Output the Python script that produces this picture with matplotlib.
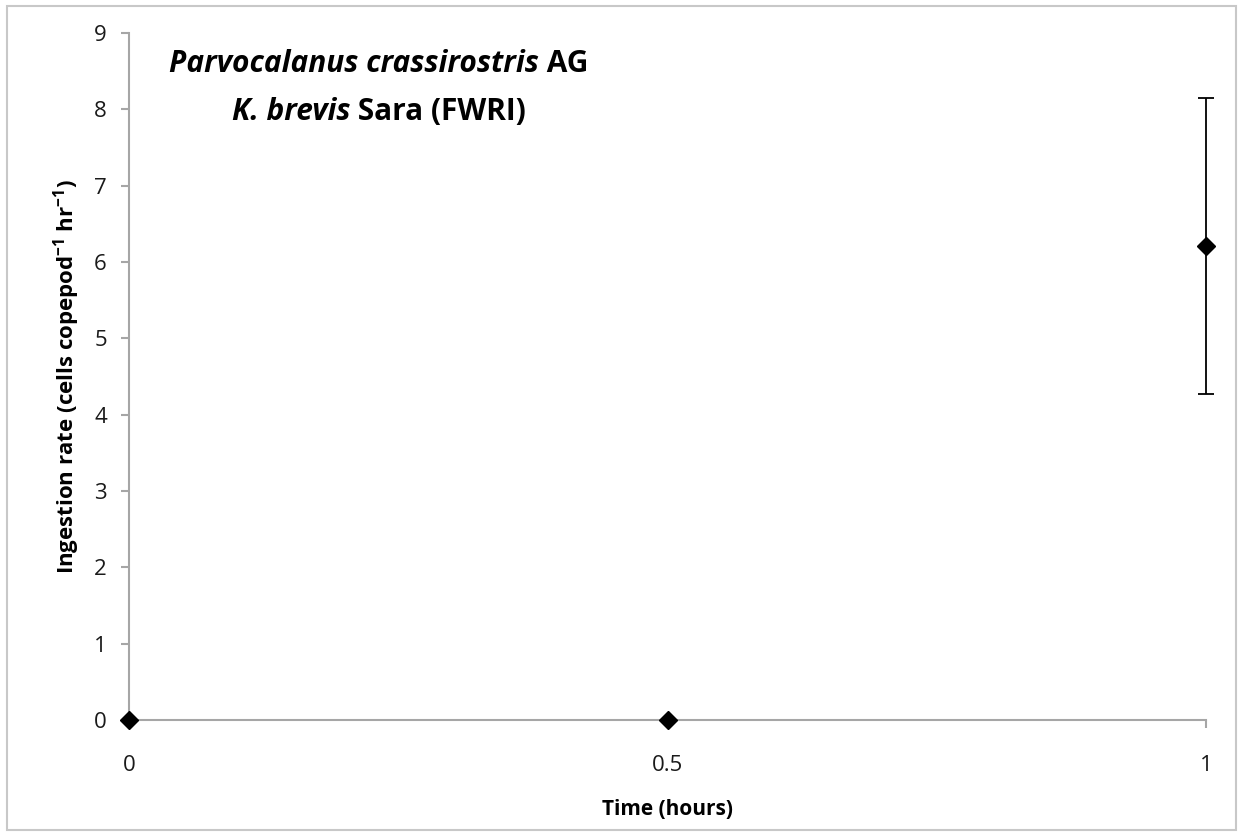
import matplotlib
matplotlib.use("Agg")
import matplotlib.pyplot as plt

# Ingestion data
time_hours = [0.0, 0.5, 1.0]
ingestion_rate = [0.0, 0.0, 6.21]
ingestion_err = [0.0, 0.0, 1.94]
x_ticks = [0, 0.5, 1]
x_tick_labels = ["0", "0.5", "1"]
y_ticks = list(range(0, 10))

FONT = "Open Sans"
plt.rcParams["font.family"] = [FONT, "DejaVu Sans"]
plt.rcParams["mathtext.fontset"] = "custom"
plt.rcParams["mathtext.rm"] = FONT + ":bold"
plt.rcParams["mathtext.default"] = "rm"

fig = plt.figure(figsize=(12.38, 8.32), dpi=100)
W, H = 1238, 832
ax = fig.add_axes([129 / W, 1 - 720 / H, (1206 - 129) / W, (720 - 33) / H])

# figure frame
fig.patches.append(plt.Rectangle((7 / W, 2 / H), (1236 - 7) / W, (826 - 2) / H,
                                 transform=fig.transFigure, fill=False,
                                 edgecolor="#c8c8c8", linewidth=1.5))

ax.errorbar(time_hours, ingestion_rate, yerr=[ingestion_err, ingestion_err],
            fmt="D", color="black", markersize=9, ecolor="black",
            elinewidth=1.3, capsize=6, capthick=1.3, clip_on=False, zorder=5)

ax.set_xlim(0, 1)
ax.set_ylim(0, 9)
ax.set_xticks(x_ticks)
ax.set_xticklabels(x_tick_labels)
ax.set_yticks(y_ticks)

for s in ["top", "right"]:
    ax.spines[s].set_visible(False)
for s in ["left", "bottom"]:
    ax.spines[s].set_color("#a6a6a6")
    ax.spines[s].set_linewidth(1.5)

ax.tick_params(axis="both", colors="#a6a6a6", length=6, width=1.5,
               labelcolor="#1a1a1a", labelsize=16)
ax.tick_params(axis="y", pad=10)
ax.tick_params(axis="x", pad=19)

ax.set_xlabel("Time (hours)", fontsize=15, fontweight="bold", labelpad=17)
ax.set_ylabel("Ingestion rate (cells copepod$^{-1}$ hr$^{-1}$)", fontsize=16,
              fontweight="bold", labelpad=9)

# two-line title with mixed italic/upright pieces
title_lines = [
    [("Parvocalanus crassirostris", "italic"), (" AG", "normal")],
    [("K. brevis", "italic"), (" Sara (FWRI)", "normal")],
]
centers_y = [64, 112]
center_x = 379
renderer = fig.canvas.get_renderer()
for pieces, cy in zip(title_lines, centers_y):
    texts = []
    for txt, style in pieces:
        t = fig.text(0, 1 - cy / H, txt, fontsize=21.5, fontweight="bold",
                     fontstyle=style, va="center", ha="left")
        texts.append(t)
    widths = [t.get_window_extent(renderer).width for t in texts]
    x0 = center_x - sum(widths) / 2
    for t, w in zip(texts, widths):
        t.set_x(x0 / W)
        x0 += w

fig.savefig("out.png", dpi=100)
